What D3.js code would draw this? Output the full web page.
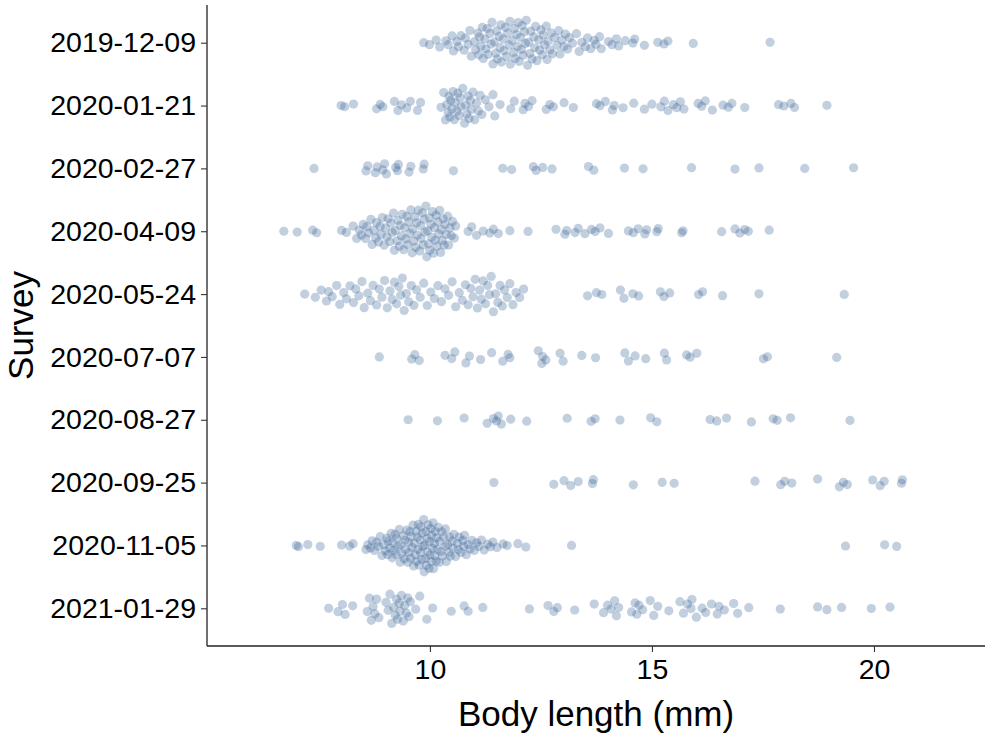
<!DOCTYPE html>
<html>
<head>
<meta charset="utf-8">
<script src="https://cdn.jsdelivr.net/npm/d3@7"></script>
<style>
  body { margin: 0; background: #fff; }
  svg text { font-family: "Liberation Sans", Arial, Helvetica, sans-serif; fill: #000; }
</style>
</head>
<body>
<svg id="chart" width="992" height="737"></svg>
<script>
(function() {
  var width = 992,
    height = 737;

  // survey dates (top to bottom)
  var surveys = ["2019-12-09", "2020-01-21", "2020-02-27", "2020-04-09", "2020-05-24",
    "2020-07-07", "2020-08-27", "2020-09-25", "2020-11-05", "2021-01-29"];

  // body lengths (mm), one array per survey
  var len_2019_12_09 = [9.86, 9.99, 10.14, 10.22, 10.36, 10.41, 10.5, 10.53, 10.61, 10.64, 10.7, 10.77,
    10.8, 10.86, 10.9, 10.93, 11.0, 11.03, 11.08, 11.1, 11.12, 11.15, 11.18, 11.2, 11.24, 11.26,
    11.29, 11.31, 11.35, 11.38, 11.4, 11.42, 11.45, 11.48, 11.5, 11.52, 11.56, 11.58, 11.6, 11.61,
    11.65, 11.67, 11.7, 11.72, 11.75, 11.78, 11.8, 11.81, 11.85, 11.88, 11.9, 11.92, 11.95, 11.97,
    11.99, 12.01, 12.04, 12.06, 12.08, 12.1, 12.13, 12.15, 12.17, 12.2, 12.22, 12.25, 12.27, 12.3,
    12.34, 12.36, 12.38, 12.41, 12.45, 12.47, 12.5, 12.53, 12.55, 12.58, 12.62, 12.64, 12.66, 12.7,
    12.73, 12.76, 12.81, 12.86, 12.9, 12.93, 12.97, 13.02, 13.05, 13.1, 13.14, 13.21, 13.3, 13.36,
    13.42, 13.5, 13.55, 13.62, 13.7, 13.74, 13.82, 13.86, 14.02, 14.1, 14.2, 14.25, 14.4, 14.57,
    14.61, 14.83, 15.13, 15.27, 15.36, 15.93, 17.66];
  var len_2020_01_21 = [8.0, 8.08, 8.28, 8.8, 8.88, 8.94, 9.2, 9.28, 9.36, 9.48, 9.56, 9.72, 9.79,
    10.25, 10.31, 10.35, 10.38, 10.41, 10.43, 10.45, 10.47, 10.5, 10.52, 10.55, 10.57, 10.61, 10.63,
    10.66, 10.68, 10.7, 10.74, 10.78, 10.8, 10.83, 10.86, 10.88, 10.91, 10.93, 10.97, 11.01, 11.05,
    11.09, 11.13, 11.17, 11.25, 11.33, 11.42, 11.46, 11.58, 11.82, 11.9, 12.1, 12.14, 12.22, 12.3,
    12.62, 12.7, 12.78, 13.02, 13.23, 13.75, 13.83, 13.95, 14.11, 14.15, 14.35, 14.59, 14.83, 15.0,
    15.2, 15.28, 15.36, 15.48, 15.56, 15.64, 15.72, 16.04, 16.12, 16.2, 16.36, 16.6, 16.72, 16.8,
    17.09, 17.85, 17.97, 18.13, 18.21, 18.94];
  var len_2020_02_27 = [7.39, 8.56, 8.6, 8.77, 8.81, 8.94, 8.98, 9.02, 9.23, 9.27, 9.29, 9.53, 9.57,
    9.85, 9.87, 10.53, 11.64, 11.84, 12.33, 12.39, 12.54, 12.75, 13.57, 13.69, 14.38, 14.8, 15.89,
    16.87, 17.41, 18.44, 19.54];
  var len_2020_04_09 = [6.71, 7.01, 7.36, 7.45, 8.01, 8.12, 8.27, 8.35, 8.41, 8.46, 8.5, 8.55, 8.58,
    8.62, 8.67, 8.7, 8.74, 8.78, 8.8, 8.84, 8.88, 8.9, 8.93, 8.97, 9.0, 9.03, 9.06, 9.1, 9.12, 9.15,
    9.18, 9.2, 9.22, 9.26, 9.28, 9.31, 9.33, 9.36, 9.38, 9.41, 9.43, 9.45, 9.48, 9.5, 9.52, 9.55,
    9.57, 9.6, 9.61, 9.63, 9.66, 9.68, 9.7, 9.72, 9.74, 9.77, 9.79, 9.8, 9.83, 9.85, 9.87, 9.89,
    9.91, 9.93, 9.95, 9.97, 9.99, 10.0, 10.02, 10.04, 10.06, 10.08, 10.1, 10.12, 10.14, 10.16, 10.18,
    10.2, 10.22, 10.24, 10.26, 10.28, 10.3, 10.32, 10.34, 10.37, 10.4, 10.42, 10.45, 10.48, 10.51,
    10.55, 10.58, 10.86, 10.94, 11.05, 11.2, 11.35, 11.43, 11.54, 11.8, 12.21, 12.84, 13.04, 13.08,
    13.27, 13.34, 13.49, 13.64, 13.72, 13.83, 14.02, 14.47, 14.58, 14.69, 14.84, 14.88, 15.11, 15.14,
    15.67, 15.7, 16.57, 16.87, 16.98, 17.09, 17.17, 17.64];
  var len_2020_05_24 = [7.18, 7.42, 7.55, 7.67, 7.72, 7.8, 7.9, 7.97, 8.06, 8.12, 8.2, 8.28, 8.33,
    8.4, 8.47, 8.52, 8.6, 8.66, 8.72, 8.8, 8.86, 8.92, 8.98, 9.04, 9.1, 9.15, 9.2, 9.25, 9.3, 9.34,
    9.38, 9.42, 9.47, 9.52, 9.58, 9.64, 9.7, 9.78, 9.86, 9.94, 10.02, 10.1, 10.18, 10.26, 10.34,
    10.42, 10.5, 10.58, 10.66, 10.73, 10.8, 10.86, 10.92, 10.97, 11.02, 11.07, 11.12, 11.16, 11.2,
    11.25, 11.3, 11.34, 11.38, 11.43, 11.48, 11.53, 11.58, 11.63, 11.68, 11.74, 11.8, 11.87, 11.94,
    12.02, 12.11, 13.55, 13.75, 13.87, 14.29, 14.37, 14.57, 14.7, 15.19, 15.27, 15.4, 16.05, 16.14,
    16.59, 17.41, 19.33];
  var len_2020_07_07 = [8.86, 9.59, 9.66, 9.76, 10.34, 10.49, 10.56, 10.81, 10.89, 11.14, 11.39,
    11.64, 11.76, 11.8, 12.44, 12.52, 12.54, 12.61, 12.93, 13.0, 13.42, 13.73, 14.39, 14.47, 14.62,
    14.86, 15.28, 15.33, 15.78, 15.86, 16.01, 17.51, 17.6, 19.16];
  var len_2020_08_27 = [9.51, 10.17, 10.77, 11.29, 11.43, 11.5, 11.54, 11.61, 11.82, 12.18, 13.09,
    13.63, 13.72, 14.28, 14.97, 15.11, 16.31, 16.46, 16.68, 17.24, 17.73, 17.82, 18.12, 19.46];
  var len_2020_09_25 = [11.44, 12.79, 13.02, 13.17, 13.34, 13.66, 13.68, 14.58, 15.23, 15.5, 17.32,
    17.9, 17.99, 18.15, 18.73, 19.22, 19.31, 19.4, 19.97, 20.14, 20.23, 20.62, 20.64];
  var len_2020_11_05 = [6.99, 7.04, 7.25, 7.53, 8.01, 8.19, 8.27, 8.56, 8.6, 8.66, 8.7, 8.75, 8.8,
    8.84, 8.88, 8.92, 8.96, 9.0, 9.03, 9.05, 9.06, 9.1, 9.13, 9.15, 9.16, 9.19, 9.22, 9.24, 9.25,
    9.28, 9.31, 9.33, 9.34, 9.37, 9.4, 9.42, 9.44, 9.45, 9.48, 9.5, 9.52, 9.53, 9.55, 9.57, 9.58,
    9.6, 9.62, 9.63, 9.65, 9.67, 9.69, 9.7, 9.72, 9.73, 9.74, 9.76, 9.78, 9.79, 9.8, 9.82, 9.83,
    9.84, 9.86, 9.87, 9.88, 9.9, 9.91, 9.92, 9.94, 9.95, 9.96, 9.98, 9.99, 10.0, 10.02, 10.03,
    10.04, 10.06, 10.07, 10.08, 10.1, 10.11, 10.12, 10.14, 10.15, 10.16, 10.19, 10.21, 10.22, 10.25,
    10.27, 10.28, 10.31, 10.34, 10.35, 10.37, 10.4, 10.43, 10.44, 10.46, 10.5, 10.52, 10.54, 10.58,
    10.62, 10.64, 10.66, 10.7, 10.74, 10.76, 10.78, 10.82, 10.86, 10.9, 10.95, 11.0, 11.05, 11.1,
    11.16, 11.22, 11.3, 11.36, 11.42, 11.51, 11.65, 11.74, 11.98, 12.16, 13.19, 19.36, 20.24, 20.51];
  var len_2021_01_29 = [7.72, 7.93, 8.03, 8.09, 8.26, 8.59, 8.64, 8.68, 8.72, 8.76, 8.8, 8.85, 9.01,
    9.06, 9.1, 9.14, 9.18, 9.22, 9.25, 9.27, 9.31, 9.33, 9.36, 9.4, 9.43, 9.47, 9.5, 9.53, 9.56,
    9.68, 9.77, 9.93, 10.06, 10.48, 10.77, 10.86, 11.19, 12.24, 12.66, 12.79, 12.87, 13.26, 13.7,
    13.91, 14.0, 14.08, 14.16, 14.2, 14.25, 14.54, 14.62, 14.66, 14.71, 14.79, 14.96, 15.04, 15.13,
    15.38, 15.63, 15.71, 15.8, 15.88, 15.9, 16.0, 16.13, 16.21, 16.34, 16.47, 16.51, 16.63, 16.84,
    16.93, 17.18, 17.89, 18.73, 18.94, 19.27, 19.94, 20.36];

  var lengths = [len_2019_12_09, len_2020_01_21, len_2020_02_27, len_2020_04_09, len_2020_05_24,
    len_2020_07_07, len_2020_08_27, len_2020_09_25, len_2020_11_05, len_2021_01_29];

  var xTicks = [10, 15, 20];

  // plot panel
  var left = 207, right = 985, top = 5, bottom = 646;

  var x = d3.scaleLinear()
    .domain([4.98, 22.5])
    .range([left, right]);

  var y = d3.scalePoint()
    .domain(surveys)
    .range([top, bottom])
    .padding(0.6);

  // quasirandom offsets: van der Corput sequence scaled by density,
  // widths scaled by group size (varwidth)
  function vdc(i) {
    var r = 0, f = 0.5;
    while (i > 0) { r += f * (i % 2); i = Math.floor(i / 2); f /= 2; }
    return r;
  }

  var maxN = d3.max(lengths, d => d.length);

  function quasiOffsets(vals) {
    var n = vals.length;
    var s = vals.slice().sort(d3.ascending);
    var sd = d3.deviation(s);
    var iqr = d3.quantile(s, 0.75) - d3.quantile(s, 0.25);
    var lo = Math.min(sd, iqr / 1.34) || sd;
    var bw = 0.9 * lo * Math.pow(n, -0.2) * 0.5;
    var dens = v => d3.sum(s, xi => Math.exp(-0.5 * ((v - xi) / bw) * ((v - xi) / bw)));
    var g0 = s[0] - 3 * bw, g1 = s[n - 1] + 3 * bw;
    var maxD = d3.max(d3.range(512), k => dens(g0 + (g1 - g0) * k / 511));
    var idx = d3.range(n).sort((a, b) => vals[a] - vals[b] || a - b);
    var off = new Array(n);
    idx.forEach((p, r) => {
      off[p] = (vdc(r + 1) - 0.5) * 2 * dens(vals[p]) / maxD * n / maxN;
    });
    return off;
  }

  var points = [];
  surveys.forEach((sv, i) => {
    var off = quasiOffsets(lengths[i]);
    lengths[i].forEach((v, j) => points.push({ survey: sv, value: v, offset: off[j] }));
  });

  var svg = d3.select("#chart");
  var step = y.step();

  svg.append("g")
    .selectAll("circle")
    .data(points)
    .enter()
    .append("circle")
    .attr("cx", d => x(d.value))
    .attr("cy", d => y(d.survey) - d.offset * 0.43 * step)
    .attr("r", 4.6)
    .attr("fill", "#355f94")
    .attr("fill-opacity", 0.3);

  // x axis
  var gx = svg.append("g")
    .attr("transform", "translate(0," + bottom + ")")
    .call(d3.axisBottom(x).tickValues(xTicks).tickSize(6).tickPadding(7));
  gx.select(".domain").attr("stroke", "#222").attr("stroke-width", 1.3)
    .attr("d", "M" + left + ",0H" + right);
  gx.selectAll(".tick line").attr("stroke", "#333").attr("stroke-width", 1.1);
  gx.selectAll(".tick text").style("font-size", "28.5px").attr("fill", "#111");

  // y axis
  var gy = svg.append("g")
    .attr("transform", "translate(" + left + ",0)")
    .call(d3.axisLeft(y).tickSize(6).tickPadding(5));
  gy.select(".domain").attr("stroke", "#222").attr("stroke-width", 1.3)
    .attr("d", "M0," + top + "V" + bottom);
  gy.selectAll(".tick line").attr("stroke", "#333").attr("stroke-width", 1.1);
  gy.selectAll(".tick text").style("font-size", "28.5px").attr("fill", "#111");

  // axis titles
  svg.append("text")
    .attr("x", (left + right) / 2)
    .attr("y", 726)
    .attr("text-anchor", "middle")
    .style("font-size", "35px")
    .text("Body length (mm)");

  svg.append("text")
    .attr("transform", "rotate(-90)")
    .attr("x", -(top + bottom) / 2)
    .attr("y", 33)
    .attr("text-anchor", "middle")
    .style("font-size", "35px")
    .text("Survey");
})();
</script>
</body>
</html>
